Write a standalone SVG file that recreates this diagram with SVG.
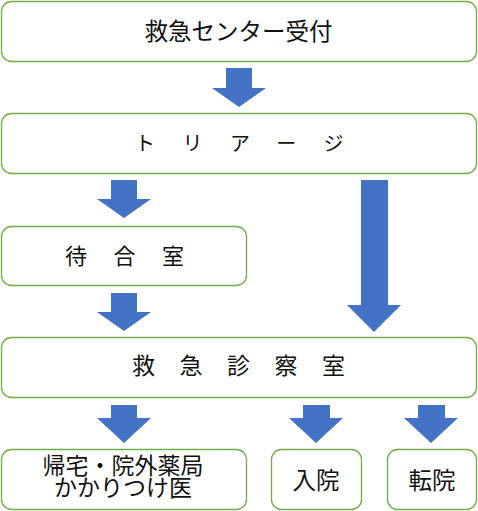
<svg xmlns="http://www.w3.org/2000/svg" width="478" height="511" viewBox="0 0 478 511">
<style>
.box{fill:#fff;stroke:#70AD47;stroke-width:1.3}
.arr{fill:#4472C4}
text{font-family:"Noto Sans CJK JP","Noto Sans CJK SC",sans-serif;fill:#111}
</style>
<rect width="478" height="511" fill="#fff"/>
<g id="connectors">
<polygon class="arr" points="226,68 252,68 252,88 266,88 239,107 212,88 226,88"/>
<polygon class="arr" points="111,180 137,180 137,199 151,199 124,218 97,199 111,199"/>
<polygon class="arr" points="361,180 388,180 388,305 401,305 374,332 347,305 361,305"/>
<polygon class="arr" points="111,293 137,293 137,312 151,312 124,331 97,312 111,312"/>
<polygon class="arr" points="111,405 137,405 137,418 151,418 124,443 97,418 111,418"/>
<polygon class="arr" points="303,405 330,405 330,418 343,418 316,443 289,418 303,418"/>
<polygon class="arr" points="418,405 445,405 445,418 458,418 431,443 404,418 418,418"/>
</g>
<g id="reception"><rect class="box" x="1.5" y="1.5" width="475" height="60" rx="10"/><text x="238.5" y="40" font-size="23.5" text-anchor="middle">救急センター受付</text></g>
<g id="triage"><rect class="box" x="1.5" y="113.5" width="475" height="60" rx="10"/><text x="135" y="151" font-size="20" letter-spacing="27.5">トリアージ</text></g>
<g id="waiting"><rect class="box" x="1.5" y="226.5" width="245" height="59" rx="10"/><text x="65" y="263.5" font-size="22" letter-spacing="26.5">待合室</text></g>
<g id="er"><rect class="box" x="1.5" y="337.5" width="475" height="60" rx="10"/><text x="132" y="374" font-size="23" letter-spacing="24.5">救急診察室</text></g>
<g id="home"><rect class="box" x="1.5" y="449.5" width="245" height="60" rx="10"/><text font-size="23" text-anchor="middle"><tspan x="123" y="473.5">帰宅・院外薬局</tspan><tspan x="123" y="496">かかりつけ医</tspan></text></g>
<g id="admit"><rect class="box" x="271.5" y="449.5" width="90" height="60" rx="10"/><text x="316" y="489" font-size="23.5" text-anchor="middle">入院</text></g>
<g id="transfer"><rect class="box" x="387.5" y="449.5" width="89" height="60" rx="10"/><text x="432" y="489" font-size="23.5" text-anchor="middle">転院</text></g>
</svg>
